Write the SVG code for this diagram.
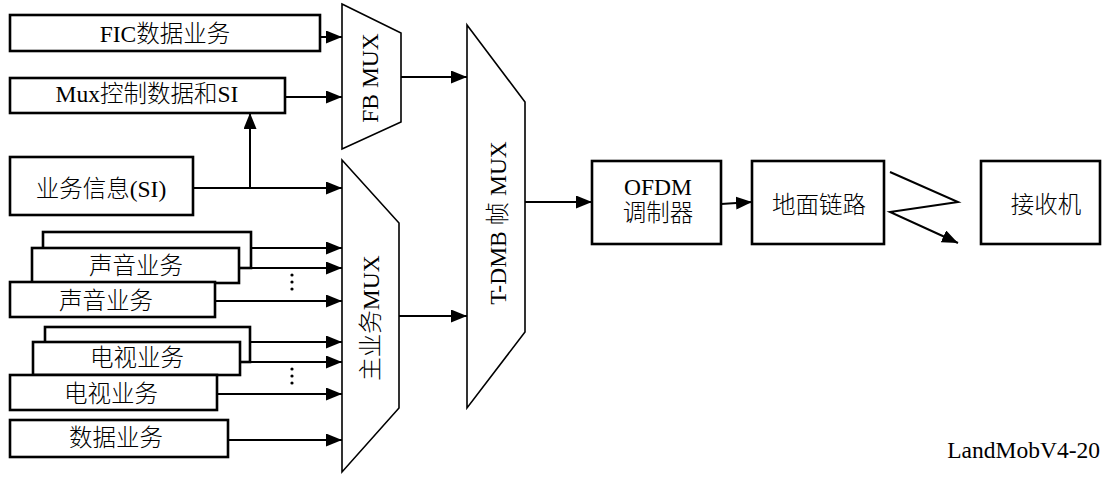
<svg xmlns="http://www.w3.org/2000/svg" width="1102" height="478" viewBox="0 0 1102 478">
<style>
text{font-family:"Liberation Serif","Noto Sans CJK SC",serif;font-size:23.5px;font-weight:300;fill:#000;text-anchor:middle}
.box{fill:#fff;stroke:#000;stroke-width:2.6}
.mux{fill:#fff;stroke:#000;stroke-width:1.6}
.ln{fill:none;stroke:#000;stroke-width:2}
</style>
<defs>
<marker id="ah" markerUnits="userSpaceOnUse" markerWidth="16" markerHeight="13" refX="16" refY="6.5" orient="auto">
<path d="M0,0 L16,6.5 L0,13 z" fill="#000"/>
</marker>
</defs>
<rect width="1102" height="478" fill="#fff"/>
<g id="fic"><rect class="box" x="10" y="15" width="310" height="36"/><text x="165" y="42">FIC数据业务</text></g>
<g id="muxctl"><rect class="box" x="10" y="78" width="275" height="35"/><text x="147" y="102">Mux控制数据和SI</text></g>
<g id="si"><rect class="box" x="10" y="157" width="183" height="58"/><text x="101" y="197">业务信息(SI)</text></g>
<g id="audio">
<rect class="box" x="43" y="232" width="208" height="36"/>
<rect class="box" x="32" y="248" width="207" height="35"/><text x="136" y="274">声音业务</text>
<rect class="box" x="10" y="282" width="205" height="35"/><text x="106" y="309">声音业务</text>
</g>
<g id="tv">
<rect class="box" x="45" y="327" width="205" height="35"/>
<rect class="box" x="33" y="342" width="207" height="33"/><text x="137" y="366">电视业务</text>
<rect class="box" x="10" y="375" width="207" height="35"/><text x="111" y="402">电视业务</text>
</g>
<g id="data"><rect class="box" x="10" y="420" width="218" height="37"/><text x="116" y="446">数据业务</text></g>
<g id="fbmux"><polygon class="mux" points="342,4 401,33 401,122 342,149"/><text transform="translate(378,78) rotate(-90)">FB MUX</text></g>
<g id="mainmux"><polygon class="mux" points="342,160 399,223 399,408 342,472"/><text transform="translate(379,318) rotate(-90)">主业务MUX</text></g>
<g id="tdmb"><polygon class="mux" points="467,25 525,102 525,332 467,408"/><text transform="translate(506,223) rotate(-90)">T-DMB 帧 MUX</text></g>
<g id="ofdm"><rect class="box" x="592" y="161" width="129" height="83"/><text x="658" y="195">OFDM</text><text x="658" y="221">调制器</text></g>
<g id="link"><rect class="box" x="752" y="161" width="132" height="83"/><text x="819" y="213">地面链路</text></g>
<g id="rx"><rect class="box" x="981" y="161" width="119" height="83"/><text x="1046" y="213">接收机</text></g>
<g id="dots" fill="#000">
<circle cx="292" cy="275" r="1.6"/><circle cx="292" cy="282" r="1.6"/><circle cx="292" cy="289" r="1.6"/>
<circle cx="292" cy="369" r="1.6"/><circle cx="292" cy="376" r="1.6"/><circle cx="292" cy="383" r="1.6"/>
</g>
<g id="connectors" class="ln">
<path class="ln" d="M320,37 H342" marker-end="url(#ah)"/>
<path class="ln" d="M285,97 H342" marker-end="url(#ah)"/>
<path class="ln" d="M193,188 H342" marker-end="url(#ah)"/>
<path class="ln" d="M250,188 V113" marker-end="url(#ah)"/>
<path class="ln" d="M251,248 H342" marker-end="url(#ah)"/>
<path class="ln" d="M239,268 H342" marker-end="url(#ah)"/>
<path class="ln" d="M215,301 H342" marker-end="url(#ah)"/>
<path class="ln" d="M250,342 H342" marker-end="url(#ah)"/>
<path class="ln" d="M240,362 H342" marker-end="url(#ah)"/>
<path class="ln" d="M217,394 H342" marker-end="url(#ah)"/>
<path class="ln" d="M228,440 H342" marker-end="url(#ah)"/>
<path class="ln" d="M401,77 H467" marker-end="url(#ah)"/>
<path class="ln" d="M399,316 H467" marker-end="url(#ah)"/>
<path class="ln" d="M525,202 H592" marker-end="url(#ah)"/>
<path class="ln" d="M721,204 L752,202" marker-end="url(#ah)"/>
<path class="ln" d="M890,172 L958,202 L890,212 L958,243" marker-end="url(#ah)"/>
</g>
<text x="1100" y="458" style="text-anchor:end">LandMobV4-20</text>
</svg>
